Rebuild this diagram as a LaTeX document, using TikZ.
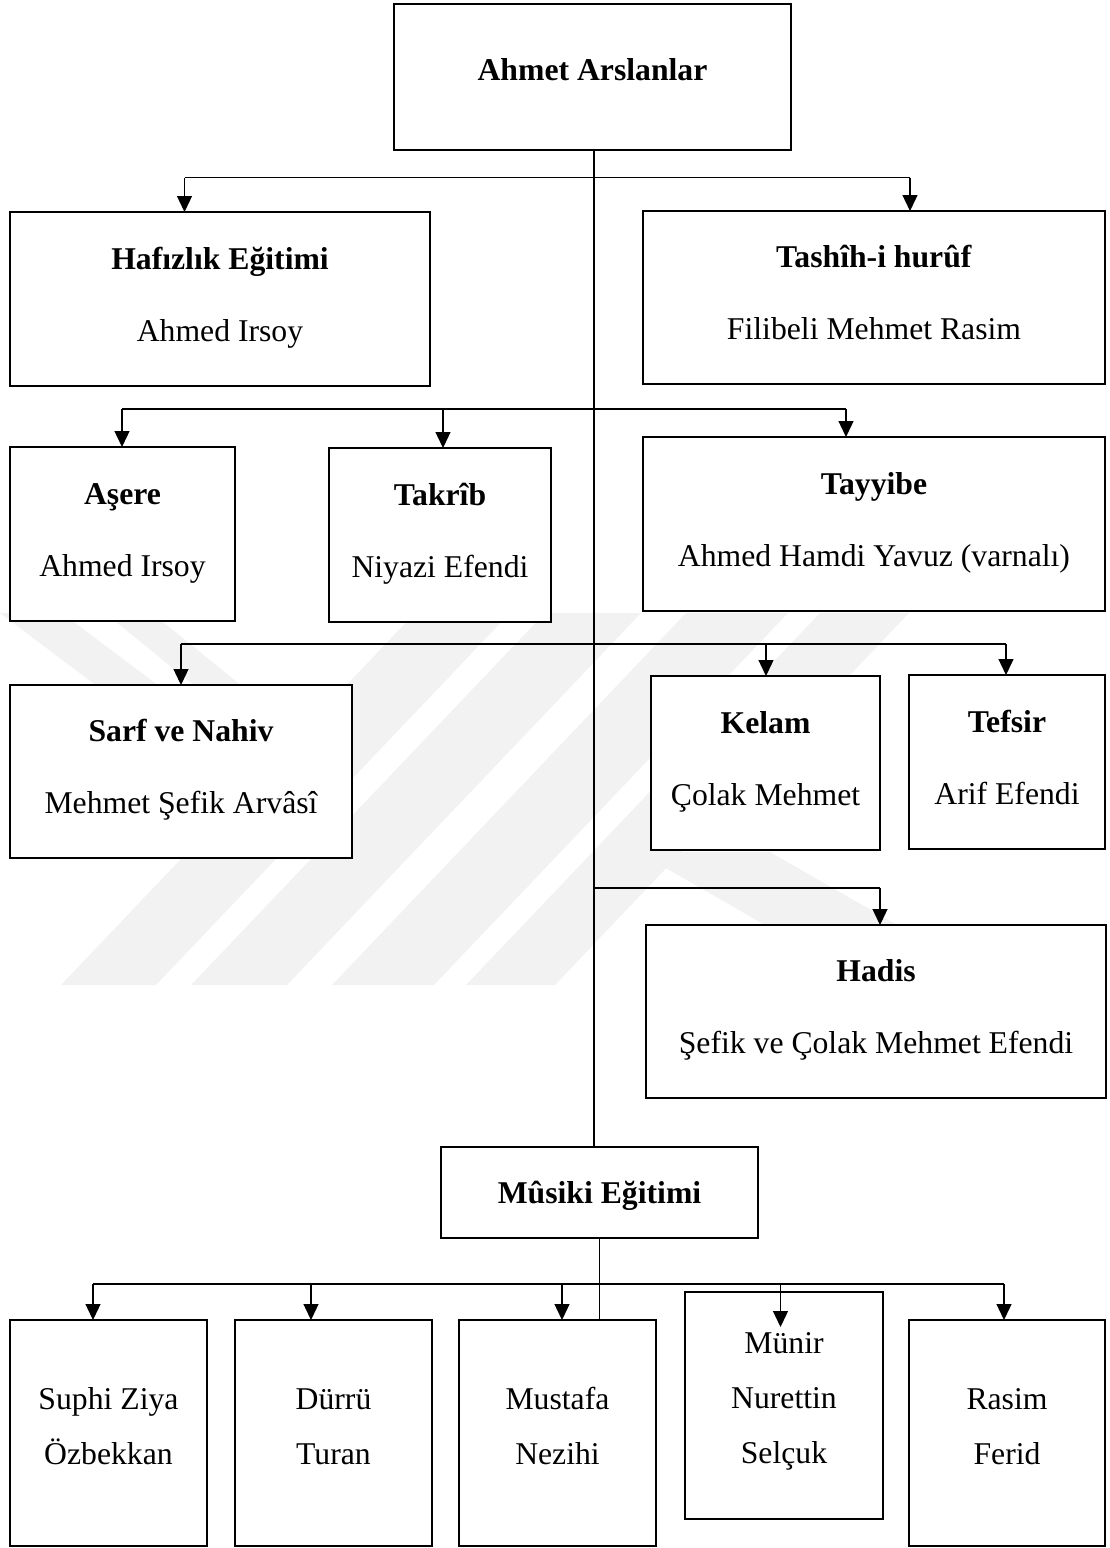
\documentclass[tikz,border=0pt]{standalone}
\usepackage{fontspec}
\setmainfont{Liberation Serif}
\usetikzlibrary{arrows.meta}
\newcommand\tstrut{\rule{0pt}{30pt}}
\newcommand\bstrut[1]{\rule[-#1pt]{0pt}{#1pt}}
\tikzset{
  box/.style={draw, fill=white, line width=2.6pt, inner sep=0pt, outer sep=0pt,
    align=center, font={\fontsize{31.7pt}{72pt}\selectfont}},
  lbox/.style={box, font={\fontsize{31.7pt}{55pt}\selectfont}},
  conn/.style={line width=1.3pt},
  arr/.style={conn, -{Triangle[length=16pt,width=15pt]}},
  wm/.style={fill=black!5, draw=none}
}
\begin{document}
\begin{tikzpicture}[x=1pt,y=-1pt]
\useasboundingbox (0,0) rectangle (1110,1548);
% faint watermark
\fill[wm] (0,613) -- (62,613) -- (200,717) -- (138,717) -- cycle;
\fill[wm] (105,613) -- (152,613) -- (280,717) -- (233,717) -- cycle;
\fill[wm] (61,985) -- (156,985) -- (510,613) -- (415,613) -- cycle;
\fill[wm] (191,985) -- (287,985) -- (641,613) -- (545,613) -- cycle;
\fill[wm] (332,985) -- (434,985) -- (788,613) -- (686,613) -- cycle;
\fill[wm] (466,985) -- (555,985) -- (909,613) -- (820,613) -- cycle;
\fill[wm] (638,852) -- (770,852) -- (897,925) -- (765,925) -- cycle;

% boxes
\node[box, minimum width=397pt, minimum height=146pt] (top) at (592.5,77) {\tstrut\textbf{Ahmet Arslanlar}\bstrut{24}};
\node[box, minimum width=420pt, minimum height=174pt] (hafiz) at (220,299) {\tstrut\textbf{Hafızlık Eğitimi}\\Ahmed Irsoy\bstrut{18}};
\node[box, minimum width=462pt, minimum height=173pt] (tashih) at (874,297.5) {\tstrut\textbf{Tashîh-i hurûf}\\Filibeli Mehmet Rasim\bstrut{18}};
\node[box, minimum width=225pt, minimum height=174pt] (asere) at (122.5,534) {\tstrut\textbf{Aşere}\\Ahmed Irsoy\bstrut{18}};
\node[box, minimum width=222pt, minimum height=174pt] (takrib) at (440,535) {\tstrut\textbf{Takrîb}\\Niyazi Efendi\bstrut{18}};
\node[box, minimum width=462pt, minimum height=174pt] (tayyibe) at (874,524) {\tstrut\textbf{Tayyibe}\\Ahmed Hamdi Yavuz (varnalı)\bstrut{18}};
\node[box, minimum width=342pt, minimum height=173pt] (sarf) at (181,771.5) {\tstrut\textbf{Sarf ve Nahiv}\\Mehmet Şefik Arvâsî\bstrut{18}};
\node[box, minimum width=229pt, minimum height=174pt] (kelam) at (765.5,763) {\tstrut\textbf{Kelam}\\Çolak Mehmet\bstrut{18}};
\node[box, minimum width=196pt, minimum height=174pt] (tefsir) at (1007,762) {\tstrut\textbf{Tefsir}\\Arif Efendi\bstrut{18}};
\node[box, minimum width=460pt, minimum height=173pt] (hadis) at (876,1011.5) {\tstrut\textbf{Hadis}\\Şefik ve Çolak Mehmet Efendi\bstrut{18}};
\node[box, minimum width=317pt, minimum height=91pt] (musiki) at (599.5,1192.5) {\tstrut\textbf{Mûsiki Eğitimi}\bstrut{9}};
\node[lbox, minimum width=197pt, minimum height=226pt] (suphi) at (108.5,1433) {\tstrut Suphi Ziya\\Özbekkan\bstrut{23}};
\node[lbox, minimum width=197pt, minimum height=226pt] (durru) at (333.5,1433) {\tstrut Dürrü\\Turan\bstrut{23}};
\node[lbox, minimum width=197pt, minimum height=226pt] (mustafa) at (557.5,1433) {\tstrut Mustafa\\Nezihi\bstrut{23}};
\node[lbox, minimum width=198pt, minimum height=227pt] (munir) at (784,1405.5) {\tstrut Münir\\Nurettin\\Selçuk\bstrut{24}};
\node[lbox, minimum width=196pt, minimum height=226pt] (rasim) at (1007,1433) {\tstrut Rasim\\Ferid\bstrut{23}};

% spine
\coordinate (sp) at (594,0);
\draw[conn] (top.south -| sp) -- (musiki.north -| sp);

% branch 1
\coordinate (b1a) at (184.5,177.5);
\coordinate (b1b) at (910,177.5);
\draw[conn] (b1a) -- (b1b);
\draw[arr] (b1a) -- (b1a |- hafiz.north);
\draw[arr] (b1b) -- (b1b |- tashih.north);

% branch 2
\coordinate (b2a) at (122,409);
\coordinate (b2b) at (443,409);
\coordinate (b2c) at (846,409);
\draw[conn] (b2a) -- (b2c);
\draw[arr] (b2a) -- (b2a |- asere.north);
\draw[arr] (b2b) -- (b2b |- takrib.north);
\draw[arr] (b2c) -- (b2c |- tayyibe.north);

% branch 3
\coordinate (b3a) at (181,644);
\coordinate (b3b) at (766,644);
\coordinate (b3c) at (1006,644);
\draw[conn] (b3a) -- (b3c);
\draw[arr] (b3a) -- (b3a |- sarf.north);
\draw[arr] (b3b) -- (b3b |- kelam.north);
\draw[arr] (b3c) -- (b3c |- tefsir.north);

% branch 4
\coordinate (b4a) at (594,888);
\coordinate (b4b) at (880,888);
\draw[conn] (b4a) -- (b4b);
\draw[arr] (b4b) -- (b4b |- hadis.north);

% music branch
\draw[conn] (musiki.south) -- (musiki.south |- mustafa.north);
\coordinate (c1) at (93,1284);
\coordinate (c2) at (311,1284);
\coordinate (c3) at (562,1284);
\coordinate (c4) at (780.5,1284);
\coordinate (c4e) at (780.5,1327);
\coordinate (c5) at (1004,1284);
\draw[conn] (c1) -- (c5);
\draw[arr] (c1) -- (c1 |- suphi.north);
\draw[arr] (c2) -- (c2 |- durru.north);
\draw[arr] (c3) -- (c3 |- mustafa.north);
\draw[arr] (c4) -- (c4e);
\draw[arr] (c5) -- (c5 |- rasim.north);
\end{tikzpicture}
\end{document}
